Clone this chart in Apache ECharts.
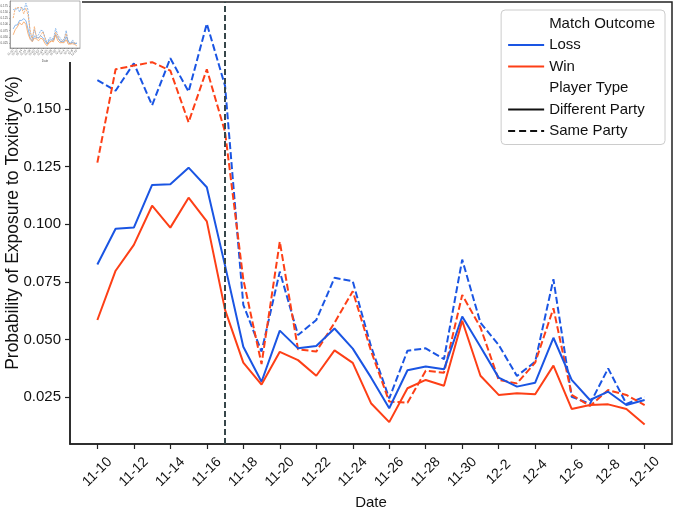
<!DOCTYPE html>
<html>
<head>
    <meta charset="UTF-8">
    <title>Exposure to Toxicity</title>
    <script src="https://cdn.jsdelivr.net/npm/echarts@6/dist/echarts.min.js"></script>
    <style>
        body { margin: 0; background: #fff; }
        #main { width: 675px; height: 510px; }
    </style>
</head>
<body>
    <div id="main"></div>
    <script>
        // daily dates, 11-10 .. 12-10
        var dates = ['11-10', '11-11', '11-12', '11-13', '11-14', '11-15', '11-16', '11-17', '11-18', '11-19',
            '11-20', '11-21', '11-22', '11-23', '11-24', '11-25', '11-26', '11-27', '11-28', '11-29', '11-30',
            '12-1', '12-2', '12-3', '12-4', '12-5', '12-6', '12-7', '12-8', '12-9', '12-10'];
        var xTickLabels = ['11-10', '11-12', '11-14', '11-16', '11-18', '11-20', '11-22', '11-24', '11-26',
            '11-28', '11-30', '12-2', '12-4', '12-6', '12-8', '12-10'];
        var yTicks = [0.025, 0.050, 0.075, 0.100, 0.125, 0.150, 0.175];
        var eventDate = '11-17';

        // Loss / Win x Different Party (solid) / Same Party (dashed)
        var lossDiff = [0.0825, 0.098, 0.0985, 0.117, 0.1173, 0.1245, 0.116, 0.082, 0.0468, 0.0316,
            0.0538, 0.0461, 0.0471, 0.0547, 0.046, 0.0335, 0.0201, 0.0366, 0.0382, 0.037, 0.0599,
            0.0468, 0.0334, 0.0295, 0.0312, 0.0507, 0.0324, 0.0237, 0.0273, 0.0215, 0.0237];
        var winDiff = [0.0584, 0.0798, 0.091, 0.108, 0.0985, 0.1115, 0.1012, 0.0628, 0.0399, 0.0304,
            0.0446, 0.041, 0.0342, 0.0452, 0.0398, 0.0223, 0.0141, 0.0288, 0.0324, 0.0299, 0.0581,
            0.0342, 0.0259, 0.0266, 0.0262, 0.0386, 0.0198, 0.0215, 0.0218, 0.0198, 0.0131];
        var lossSame = [0.1625, 0.1579, 0.1698, 0.1516, 0.172, 0.1575, 0.187, 0.160, 0.065, 0.0447,
            0.0794, 0.0519, 0.0584, 0.0767, 0.0752, 0.047, 0.0244, 0.0451, 0.0461, 0.0414, 0.0846,
            0.0572, 0.0476, 0.0341, 0.0403, 0.0761, 0.0251, 0.022, 0.0374, 0.022, 0.0251];
        var winSame = [0.1267, 0.1672, 0.1688, 0.1703, 0.1666, 0.1442, 0.1672, 0.140, 0.076, 0.0393,
            0.0924, 0.0457, 0.0447, 0.0572, 0.0709, 0.045, 0.023, 0.0225, 0.0364, 0.0355, 0.0693,
            0.0552, 0.0324, 0.0309, 0.0399, 0.0635, 0.0259, 0.0211, 0.028, 0.0259, 0.0215];

        var BLUE = '#1a55e3';
        var RED = '#fd3f16';
        var FONT = 'Liberation Sans';
        var DASH = [7, 3];

        var xTickIdx = xTickLabels.map(function (d) { return dates.indexOf(d); });
        var eventIdx = dates.indexOf(eventDate);
        function pairs(arr) { return arr.map(function (v, i) { return [i, v]; }); }

        var chart = echarts.init(document.getElementById('main'));

        function mainSeries(name, arr, color, dashed, grid) {
            var small = grid === 1;
            return {
                name: name,
                type: 'line',
                xAxisIndex: grid, yAxisIndex: grid,
                data: pairs(arr),
                symbol: 'none',
                silent: true,
                z: small ? 101 : 2,
                lineStyle: { color: color, width: small ? 0.8 : 2, type: dashed ? (small ? [2, 1] : DASH) : 'solid' },
                itemStyle: { color: color }
            };
        }
        // legend-only entries
        function dummy(name, color, dashed) {
            return {
                name: name, type: 'line', data: [], symbol: 'none', symbolSize: 0,
                lineStyle: { color: color, width: 2, type: dashed ? [7, 4] : 'solid' },
                itemStyle: { color: color }
            };
        }

        var series = [
            mainSeries('Loss, Same Party', lossSame, BLUE, true, 0),
            mainSeries('Win, Same Party', winSame, RED, true, 0),
            mainSeries('Loss, Different Party', lossDiff, BLUE, false, 0),
            mainSeries('Win, Different Party', winDiff, RED, false, 0),
            mainSeries('s1', lossSame, '#6da6e6', true, 1),
            mainSeries('s2', winSame, '#f6a15a', true, 1),
            mainSeries('s3', lossDiff, '#6da6e6', false, 1),
            mainSeries('s4', winDiff, '#f6a15a', false, 1),
            dummy('Match Outcome', '#fff', false),
            dummy('Loss', BLUE, false),
            dummy('Win', RED, false),
            dummy('Player Type', '#fff', false),
            dummy('Different Party', '#111', false),
            dummy('Same Party', '#111', true)
        ];
        series[0].markLine = {
            symbol: 'none', silent: true, label: { show: false },
            lineStyle: { color: '#37474a', width: 2, type: [6, 3] },
            data: [{ xAxis: eventIdx }]
        };
        series[4].markLine = {
            symbol: 'none', silent: true, label: { show: false },
            lineStyle: { color: '#cfcfcf', width: 2.5, type: 'solid' },
            data: [{ xAxis: eventIdx }]
        };

        var option = {
            animation: false,
            backgroundColor: '#fff',
            textStyle: { fontFamily: FONT },
            graphic: [{
                type: 'rect', left: 0, top: 0, z: 99,
                shape: { width: 82, height: 62 },
                style: { fill: '#fff' }
            }],
            grid: [
                { left: 70, right: 3, top: 2, bottom: 66, outerBoundsMode: 'none', show: true, borderColor: '#222', borderWidth: 1.5 },
                { left: 10, top: 1, width: 70, height: 47, outerBoundsMode: 'none', show: true, borderColor: '#666', borderWidth: 0.5, backgroundColor: '#fff', z: 100 }
            ],
            legend: {
                orient: 'vertical', right: 10, top: 10,
                selectedMode: false,
                itemWidth: 36, itemHeight: 14, itemGap: 6.5,
                padding: [6, 10, 6, 6],
                itemStyle: { opacity: 0 },
                borderColor: '#ccc', borderWidth: 1, borderRadius: 4,
                backgroundColor: 'rgba(255,255,255,0.8)',
                textStyle: { fontSize: 15, color: '#111', fontFamily: FONT },
                data: [
                    { name: 'Match Outcome', icon: 'none' }, 'Loss', 'Win',
                    { name: 'Player Type', icon: 'none' }, 'Different Party', 'Same Party'
                ]
            },
            xAxis: [{
                type: 'value', gridIndex: 0, min: -1.5, max: 31.5,
                name: 'Date', nameLocation: 'middle', nameGap: 51, nameMoveOverlap: false,
                nameTextStyle: { fontSize: 15, color: '#111', fontFamily: FONT },
                axisLine: { onZero: false, lineStyle: { color: '#222', width: 1.5 } },
                axisTick: { customValues: xTickIdx, length: 5, lineStyle: { color: '#222', width: 1.2 } },
                axisLabel: {
                    customValues: xTickIdx, rotate: 45, margin: 28, fontSize: 14, color: '#111',
                    align: 'center', verticalAlign: 'middle',
                    formatter: function (v) { return dates[v]; }
                },
                splitLine: { show: false }
            }, {
                type: 'value', gridIndex: 1, min: -1.5, max: 31.5, z: 102,
                axisLine: { onZero: false, lineStyle: { color: '#666', width: 0.5 } },
                axisTick: { customValues: xTickIdx, length: 1, lineStyle: { color: '#666', width: 0.5 } },
                axisLabel: {
                    customValues: xTickIdx, rotate: 45, margin: 2, fontSize: 3, color: '#555',
                    formatter: function (v) { return dates[v]; }
                },
                name: 'Date', nameLocation: 'middle', nameGap: 9,
                nameTextStyle: { fontSize: 3, color: '#555' },
                splitLine: { show: false }
            }],
            yAxis: [{
                type: 'value', gridIndex: 0, min: 0.0046, max: 0.1964,
                name: 'Probability of Exposure to Toxicity (%)', nameLocation: 'middle', nameGap: 48,
                nameMoveOverlap: false,
                nameTextStyle: { fontSize: 17.5, color: '#111', fontFamily: FONT },
                axisLine: { show: true, onZero: false, lineStyle: { color: '#222', width: 1.5 } },
                axisTick: { show: true, customValues: yTicks, length: 5, lineStyle: { color: '#222', width: 1.2 } },
                axisLabel: {
                    customValues: yTicks, margin: 9, fontSize: 15, color: '#111',
                    formatter: function (v) { return v.toFixed(3); }
                },
                splitLine: { show: false }
            }, {
                type: 'value', gridIndex: 1, min: 0.0046, max: 0.1964, z: 102,
                axisLine: { show: true, onZero: false, lineStyle: { color: '#666', width: 0.5 } },
                axisTick: { show: true, customValues: yTicks, length: 1, lineStyle: { color: '#666', width: 0.5 } },
                axisLabel: {
                    customValues: yTicks, margin: 2, fontSize: 3, color: '#555',
                    formatter: function (v) { return v.toFixed(3); }
                },
                splitLine: { show: false }
            }],
            series: series
        };

        chart.setOption(option);
    </script>
</body>
</html>
